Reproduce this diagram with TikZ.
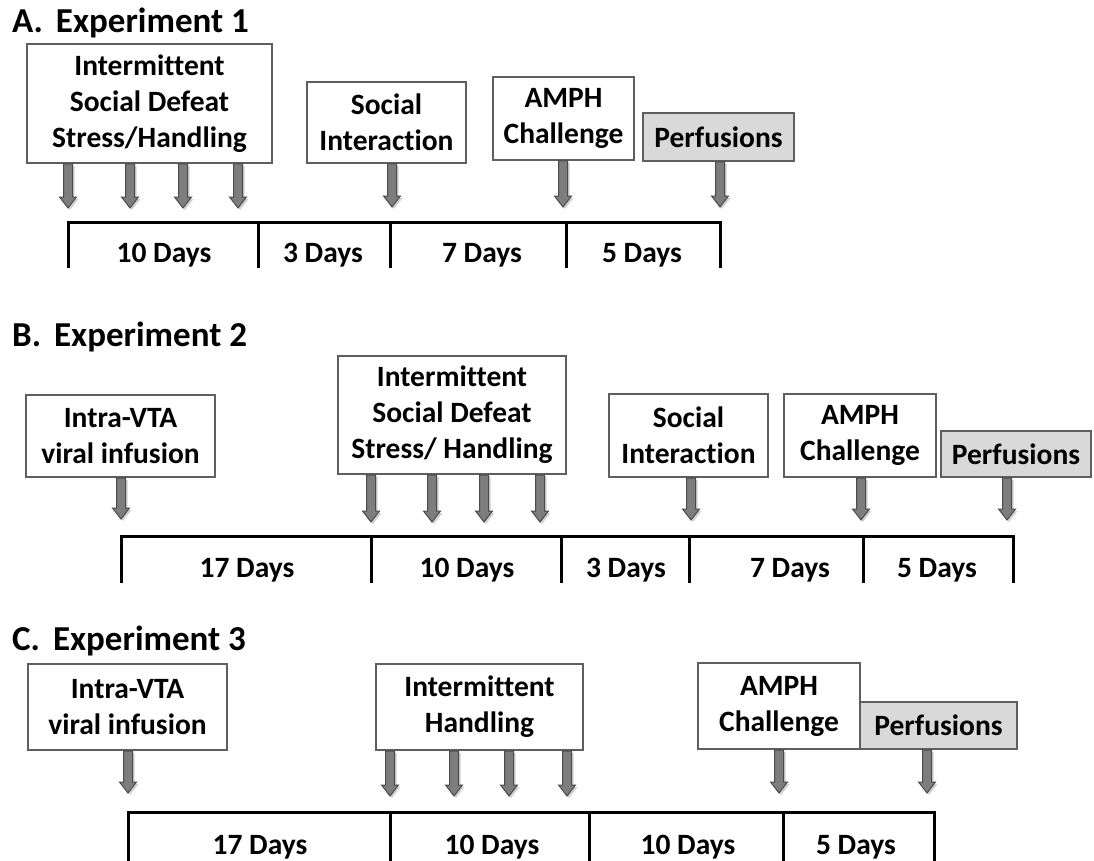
\documentclass[tikz,border=0pt]{standalone}
\usepackage{fontspec}
\setmainfont{Carlito}[Ligatures=NoCommon]
\definecolor{boxline}{RGB}{95,95,95}
\definecolor{perffill}{RGB}{217,217,217}
\definecolor{arrfill}{RGB}{125,125,125}
\definecolor{arrline}{RGB}{75,75,75}
\tikzset{
  box/.style={draw=boxline, line width=1.5pt, fill=white, inner sep=0pt, align=center,
    font=\bfseries\fontsize{29.5}{36}\selectfont},
  perfbox/.style={box, fill=perffill},
  title/.style={anchor=base west, inner sep=0pt, font=\bfseries\fontsize{35}{40}\selectfont},
  daylabel/.style={anchor=base, inner sep=0pt, font=\bfseries\fontsize{29.5}{34}\selectfont},
  tline/.style={draw=black, line width=3pt},
  barrow/.style={fill=arrfill, draw=arrline, line width=1pt, line join=miter},
  bshadow/.style={fill=black, opacity=0.18},
}
\newcommand\blockarr[3]{%
  \fill[bshadow] ({#1-4.5+2},{#2+2}) -- ({#1+4.5+2},{#2+2}) -- ({#1+4.5+2},{#3-11+2}) -- ({#1+8.5+2},{#3-11+2}) -- ({#1+2},{#3+2}) -- ({#1-8.5+2},{#3-11+2}) -- ({#1-4.5+2},{#3-11+2}) -- cycle;
  \draw[barrow] ({#1-4.5},{#2}) -- ({#1+4.5},{#2}) -- ({#1+4.5},{#3-11}) -- ({#1+8.5},{#3-11}) -- ({#1},{#3}) -- ({#1-8.5},{#3-11}) -- ({#1-4.5},{#3-11}) -- cycle;}
\begin{document}
\begin{tikzpicture}[x=1pt,y=-1pt]
\useasboundingbox (0,0) rectangle (1094,861);
% ---------------- Panel A ----------------
\node[title] (tA) at (12,33) {A.\hspace{13pt}Experiment 1};
\node[box, minimum width=245, minimum height=119] (a1) at (149.5,103.5) {Intermittent\\Social Defeat\\Stress/Handling};
\node[box, minimum width=159, minimum height=81] (a2) at (386.5,122.5) {Social\\Interaction};
\node[box, minimum width=141, minimum height=83] (a3) at (563.5,118.5) {AMPH\\Challenge};
\node[perfbox, minimum width=151, minimum height=48] (a4) at (718.5,137) {Perfusions};
\blockarr{68}{164}{208}
\blockarr{130}{164}{208}
\blockarr{183}{164}{208}
\blockarr{238}{164}{208}
\blockarr{392}{164}{207}
\blockarr{563}{161}{207}
\blockarr{720}{162}{207}
\draw[tline] (68,268) -- (68,222) -- (720,222) -- (720,268);
\draw[tline] (258,222) -- (258,268);
\draw[tline] (390,222) -- (390,268);
\draw[tline] (566,222) -- (566,268);
\node[daylabel] (la1) at (164,262) {10 Days};
\node[daylabel] (la2) at (323,262) {3 Days};
\node[daylabel] (la3) at (482,262) {7 Days};
\node[daylabel] (la4) at (642,262) {5 Days};
% ---------------- Panel B ----------------
\node[title] (tB) at (12,346) {B.\hspace{13pt}Experiment 2};
\node[box, minimum width=189, minimum height=82] (b1) at (120.5,436) {Intra-VTA\\viral infusion};
\node[box, minimum width=228, minimum height=118] (b2) at (452,415) {Intermittent\\Social Defeat\\Stress/ Handling};
\node[box, minimum width=159, minimum height=83] (b3) at (688.5,435.5) {Social\\Interaction};
\node[box, minimum width=152, minimum height=83] (b4) at (860,435.5) {AMPH\\Challenge};
\node[perfbox, minimum width=150, minimum height=46] (b5) at (1016,454) {Perfusions};
\blockarr{121}{478}{519}
\blockarr{371}{475}{522}
\blockarr{432}{475}{522}
\blockarr{484}{475}{522}
\blockarr{540}{475}{522}
\blockarr{691}{478}{520}
\blockarr{861}{478}{520}
\blockarr{1007}{478}{520}
\draw[tline] (121,583) -- (121,536) -- (1013,536) -- (1013,583);
\draw[tline] (371,536) -- (371,583);
\draw[tline] (561,536) -- (561,583);
\draw[tline] (689,536) -- (689,583);
\draw[tline] (863,536) -- (863,583);
\node[daylabel] (lb1) at (247,577) {17 Days};
\node[daylabel] (lb2) at (467,577) {10 Days};
\node[daylabel] (lb3) at (626,577) {3 Days};
\node[daylabel] (lb4) at (790,577) {7 Days};
\node[daylabel] (lb5) at (937,577) {5 Days};
% ---------------- Panel C ----------------
\node[title] (tC) at (12,650) {C.\hspace{13pt}Experiment 3};
\node[box, minimum width=199, minimum height=86] (c1) at (127.5,707) {Intra-VTA\\viral infusion};
\node[box, minimum width=207, minimum height=86] (c2) at (479.5,707) {Intermittent\\Handling};
\node[box, minimum width=162, minimum height=86] (c3) at (779,706) {AMPH\\Challenge};
\node[perfbox, minimum width=157, minimum height=47] (c4) at (938.5,725.5) {Perfusions};
\blockarr{128}{751}{793}
\blockarr{390}{751}{796}
\blockarr{454}{751}{796}
\blockarr{509}{751}{796}
\blockarr{567}{751}{796}
\blockarr{779}{750}{793}
\blockarr{927}{750}{793}
\draw[tline] (128,862) -- (128,812.5) -- (934,812.5) -- (934,862);
\draw[tline] (390,812.5) -- (390,862);
\draw[tline] (589,812.5) -- (589,862);
\draw[tline] (783,812.5) -- (783,862);
\node[daylabel] (lc1) at (260,854) {17 Days};
\node[daylabel] (lc2) at (492,854) {10 Days};
\node[daylabel] (lc3) at (688,854) {10 Days};
\node[daylabel] (lc4) at (856,854) {5 Days};
\end{tikzpicture}
\end{document}
